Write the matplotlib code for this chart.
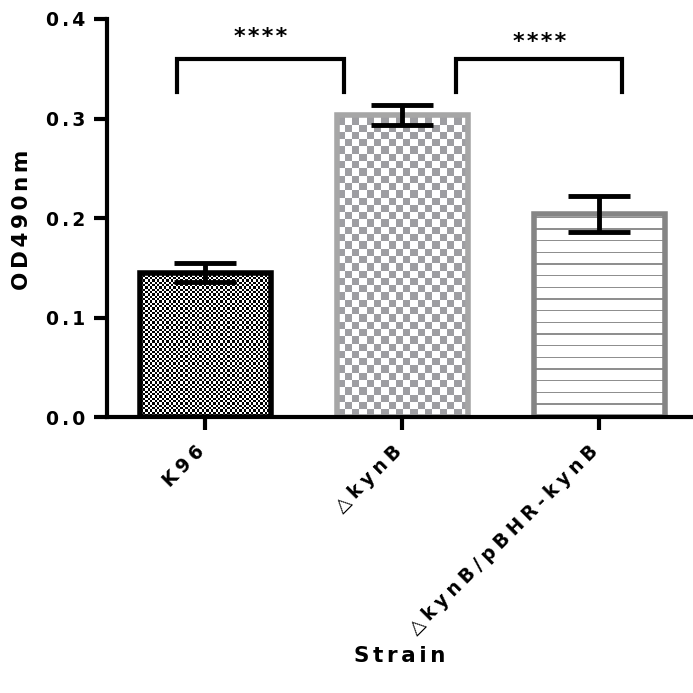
import numpy as np
import matplotlib
matplotlib.use('Agg')
import matplotlib.pyplot as plt
import matplotlib.colors as mcolors
from matplotlib.transforms import ScaledTranslation

plt.rcParams['font.family'] = ['DejaVu Sans']
plt.rcParams['font.weight'] = 'bold'

# dane
strains = ['K96', '△kynB', '△kynB/pBHR-kynB']
od490 = [0.145, 0.3035, 0.204]
od490_err = [0.0096, 0.0105, 0.018]
yticks = [0.0, 0.1, 0.2, 0.3, 0.4]

# nawiasy istotności: (x lewy, x prawy, y gwiazdek, etykieta)
sig_pairs = [(-0.142, 0.706, 0.376, '****'), (1.274, 2.117, 0.371, '****')]
sig_top = 0.360
sig_leg = 0.327

edge_colors = ['black', '#a6a6a6', '#858585']
fill_colors = ['black', '#9e9ea2', '#8f8f8f']
fill_kinds = ['checker', 'checker', 'stripes']
fill_cells = [2.35, 7.3, 11.67]   # rozmiar wzoru w pikselach


def spaced(s, gap='\u2009'):
    return gap.join(s)


def fill_texture(ax, patch, kind, color, cell):
    x0, y0 = patch.get_x(), patch.get_y()
    x1, y1 = x0 + patch.get_width(), y0 + patch.get_height()
    (px0, py0), (px1, py1) = ax.transData.transform([(x0, y0), (x1, y1)])
    w, h = int(round(px1 - px0)), int(round(py1 - py0))
    jj, ii = np.meshgrid(np.arange(w), np.arange(h))
    if kind == 'checker':
        mask = ((jj // cell).astype(int) + (ii // cell).astype(int)) % 2 == 0
    else:
        mask = (ii % cell) < 1.6
    rgba = np.ones((h, w, 4))
    rgba[mask, :3] = mcolors.to_rgb(color)
    im = ax.imshow(rgba, extent=(x0, x1, y0, y1), origin='lower',
                   interpolation='nearest', aspect='auto', zorder=1)
    im.set_clip_path(patch)


W = 693
fig = plt.figure(figsize=(6.93, 6.93), dpi=100)
ax = fig.add_axes([107 / W, 1 - 417 / W, 1 - 107 / W, (417 - 19) / W])

x = np.arange(len(strains))
ax.set_xlim(-0.5, 2.477)
ax.set_ylim(0, 0.4)

bars = ax.bar(x, od490, width=0.665, color='none', edgecolor=edge_colors,
              linewidth=4, zorder=2)
for b, k, c, s in zip(bars, fill_kinds, fill_colors, fill_cells):
    fill_texture(ax, b, k, c, s)
ax.set_xlim(-0.5, 2.477)
ax.set_ylim(0, 0.4)

ax.errorbar(x, od490, yerr=od490_err, fmt='none', ecolor='black',
            elinewidth=3.5, capsize=22, capthick=3.5, zorder=3)

for xl, xr, ys, lab in sig_pairs:
    ax.plot([xl, xl, xr, xr], [sig_leg, sig_top, sig_top, sig_leg],
            color='black', lw=3, solid_joinstyle='miter', clip_on=False, zorder=3)
    ax.text((xl + xr) / 2, ys, spaced(lab, '\u200a'), ha='center', va='baseline',
            fontsize=16, fontweight='bold')

for side in ['top', 'right']:
    ax.spines[side].set_visible(False)
for side in ['left', 'bottom']:
    ax.spines[side].set_linewidth(3)

ax.set_yticks(yticks, [spaced(f'{v:.1f}', '\u2006') for v in yticks])
ax.set_xticks(x, [spaced(s, '\u2005') for s in strains])
ax.tick_params(axis='both', width=3, length=9.5, labelsize=13.5)
ax.tick_params(axis='y', pad=6)
ax.tick_params(axis='x', pad=7)
shift = ScaledTranslation(3 / 100, -2 / 100, fig.dpi_scale_trans)
for lab in ax.get_xticklabels():
    lab.set_rotation(45)
    lab.set_ha('right')
    lab.set_fontweight('bold')
    lab.set_transform(lab.get_transform() + shift)

fig.text(22 / W, 1 - 220 / W, spaced('OD490nm', '\u2006'), rotation=90, ha='center',
         va='center', fontsize=15.5, fontweight='bold')
fig.text(400 / W, 1 - 656 / W, spaced('Strain', '\u2006'), ha='center',
         va='center', fontsize=15.5, fontweight='bold')

fig.savefig('out.png', dpi=100)
